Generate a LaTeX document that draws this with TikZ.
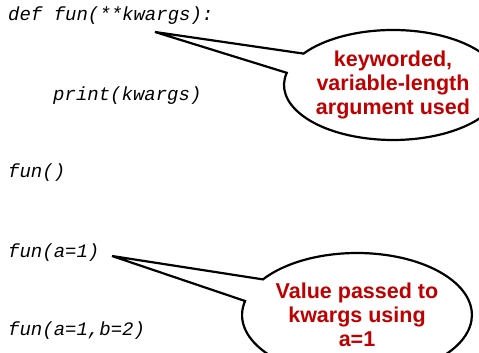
\documentclass[tikz,border=0pt]{standalone}
\usepackage{fontspec}
\usepackage{xcolor}
\usetikzlibrary{shapes.callouts}
\setmainfont{Liberation Sans}
\newfontfamily\codefont{Liberation Mono}
\definecolor{notered}{RGB}{192,0,0}

\begin{document}
\begin{tikzpicture}[x=1pt,y=1pt]
\tikzset{code/.style={anchor=base west,inner sep=0pt,font=\codefont\itshape\fontsize{19}{22}\selectfont}}
\tikzset{note/.style={ellipse callout,draw,line width=2.2pt,inner sep=0pt,callout pointer arc=22,
  align=center,text=notered,font=\bfseries\fontsize{21.5}{24}\selectfont}}

\useasboundingbox (0,0) rectangle (479,353);

% the code lines
\node[code] (def) at (8,332) {def fun(**kwargs):};
\node[code] (print) at (53,252) {print(kwargs)};
\node[code] (call0) at (8,175) {fun()};
\node[code] (call1) at (8,95) {fun(a=1)};
\node[code] (call2) at (8,17) {fun(a=1,b=2)};

% where the callouts point to
\coordinate (deftip) at (155,321);
\coordinate (calltip) at (112,97);

\node[note,minimum width=206pt,minimum height=110pt,callout absolute pointer={(deftip)}] (kwnote) at (393,268)
  {keyworded,\\variable-length\\argument used};
\node[note,minimum width=224pt,minimum height=124pt,callout absolute pointer={(calltip)}] (valnote) at (357,38)
  {Value passed to\\kwargs using\\a=1};

\end{tikzpicture}
\end{document}
